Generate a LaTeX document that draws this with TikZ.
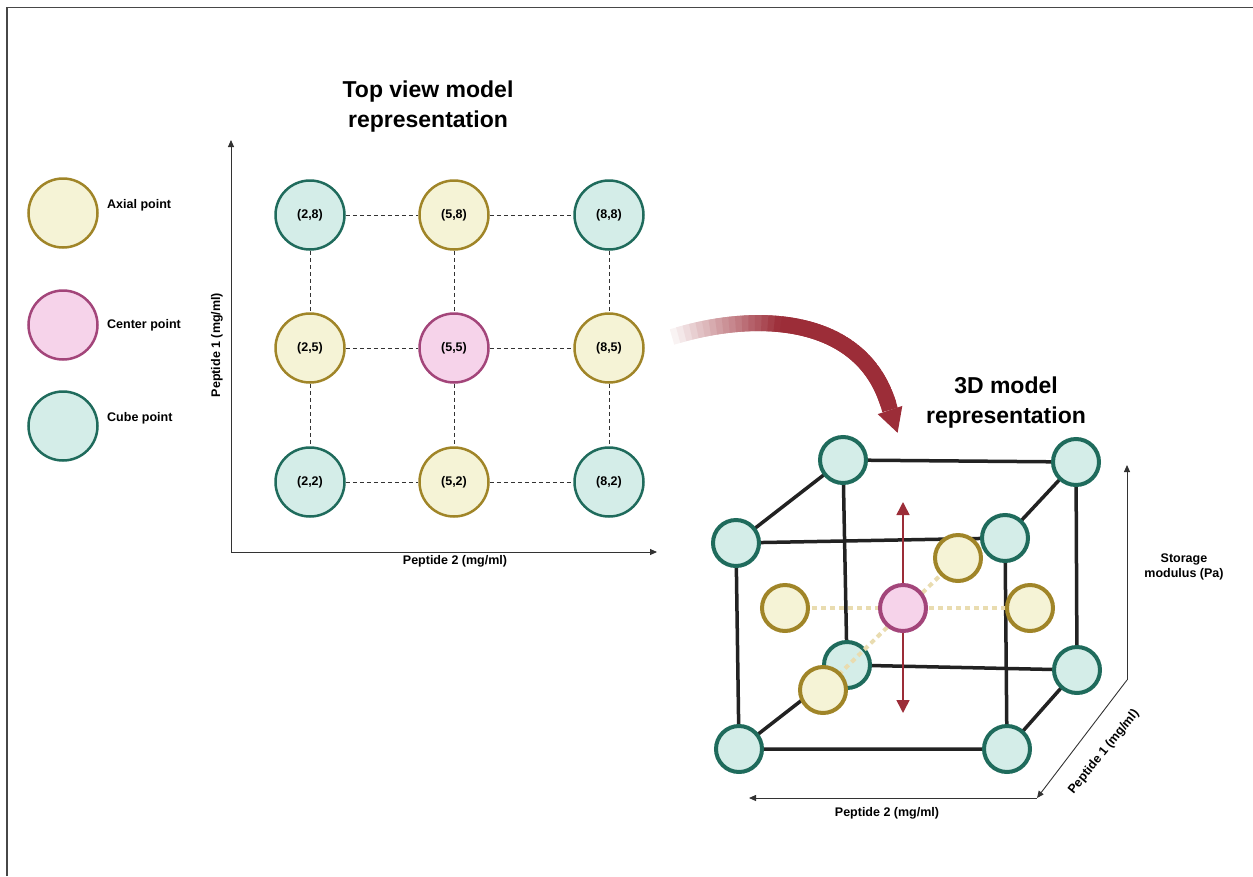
\documentclass[tikz,border=0pt]{standalone}
\usepackage{fontspec}
\setmainfont{Liberation Sans}
\usetikzlibrary{arrows.meta,decorations.markings,calc}
\definecolor{cubeF}{HTML}{D4EDE8}
\definecolor{cubeB}{HTML}{1F6B5C}
\definecolor{axF}{HTML}{F5F3D6}
\definecolor{axB}{HTML}{A08528}
\definecolor{cenF}{HTML}{F6D3EA}
\definecolor{cenB}{HTML}{A3457A}
\definecolor{ared}{HTML}{9C2D38}
\definecolor{beigedot}{HTML}{E9DCB0}
\definecolor{edgecol}{HTML}{222222}
\definecolor{axiscol}{HTML}{333333}
\begin{document}
\begin{tikzpicture}[x=1pt,y=-1pt,
  pt/.style={circle, inner sep=0pt, line width=2.5pt, minimum size=69pt, font=\bfseries\fontsize{12.5}{14}\selectfont},
  cubept/.style={pt, draw=cubeB, fill=cubeF},
  axpt/.style={pt, draw=axB, fill=axF},
  cenpt/.style={pt, draw=cenB, fill=cenF},
  tdpt/.style={line width=4pt, minimum size=46pt},
  griddash/.style={draw=axiscol, line width=0.8pt, dash pattern=on 4pt off 3pt},
  axisline/.style={draw=axiscol, line width=0.9pt, -{Triangle[length=7pt,width=6pt]}},
  lbl/.style={font=\bfseries\fontsize{12.5}{14.5}\selectfont, text=black, inner sep=0pt},
  ttl/.style={font=\bfseries\fontsize{23}{30}\selectfont, align=center, text=black},
  cubeedge/.style={draw=edgecol, line width=3.5pt},
  beigedots/.style={draw=beigedot, line width=4pt, dash pattern=on 5pt off 4pt}
]
\useasboundingbox (0,0) rectangle (1253,876);
% frame
\draw[axiscol!90, line width=1.6pt] (7,876) -- (7,7.5) -- (1253,7.5);

% legend
\node[axpt]  (lax)  at (63,213) {};
\node[cenpt] (lcen) at (63,325) {};
\node[cubept](lcub) at (63,426) {};
\node[lbl, anchor=west] (tax)  at (107,205) {Axial point};
\node[lbl, anchor=west] (tcen) at (107,325) {Center point};
\node[lbl, anchor=west] (tcub) at (107,418) {Cube point};

% top view title
\node[ttl] (t1) at (428,107) {Top view model\\representation};

% top view axes
\coordinate (o1) at (231,552);
\coordinate (ya) at (231,140);
\coordinate (xa) at (657,552);
\draw[axisline] (o1) -- (ya);
\draw[axisline] (o1) -- (xa);
\node[lbl, rotate=90] (yl) at (217,345) {Peptide 1 (mg/ml)};
\node[lbl] (xl) at (455,561) {Peptide 2 (mg/ml)};

% grid
\node[cubept] (g28) at (310,215) {(2,8)};
\node[axpt]   (g58) at (454,215) {(5,8)};
\node[cubept] (g88) at (609,215) {(8,8)};
\node[axpt]   (g25) at (310,348) {(2,5)};
\node[cenpt]  (g55) at (454,348) {(5,5)};
\node[axpt]   (g85) at (609,348) {(8,5)};
\node[cubept] (g22) at (310,482) {(2,2)};
\node[axpt]   (g52) at (454,482) {(5,2)};
\node[cubept] (g82) at (609,482) {(8,2)};
\draw[griddash] (g28) -- (g58) (g58) -- (g88) (g25) -- (g55) (g55) -- (g85) (g22) -- (g52) (g52) -- (g82);
\draw[griddash] (g28) -- (g25) (g25) -- (g22) (g58) -- (g55) (g55) -- (g52) (g88) -- (g85) (g85) -- (g82);

% curved arrow
\path[decorate, decoration={markings, mark=between positions 0 and 1 step 0.025 with {\coordinate (q\pgfkeysvalueof{/pgf/decoration/mark info/sequence number});}}]
  (672,337) .. controls (758,310) and (866,316) .. (890,410);
\coordinate (qend) at (890,410);
\foreach \i in {1,...,38}{
  \pgfmathtruncatemacro\j{\i+2}
  \pgfmathtruncatemacro\p{min(100,6+230*(\i-1)/40)}
  \draw[ared!\p!white, line width=16pt, line cap=butt] (q\i) -- (q\j);
}
\draw[ared, line width=16pt, line cap=butt, line join=round] (q39) -- (q40) -- (qend);
\coordinate (hl) at (877.7,414.1);
\coordinate (hr) at (902.3,405.9);
\coordinate (ht) at (897.6,432.8);
\fill[ared] (hl) -- (hr) -- (ht) -- cycle;

% 3D title
\node[ttl] (t2) at (1006,403) {3D model\\representation};

% 3D cube positions
\coordinate (btl) at (843,460);
\coordinate (btr) at (1076,462);
\coordinate (ftl) at (736,543);
\coordinate (ftr) at (1005,538);
\coordinate (bbl) at (847,665);
\coordinate (bbr) at (1077,670);
\coordinate (fbl) at (739,749);
\coordinate (fbr) at (1007,749);
\coordinate (axl) at (785,608);
\coordinate (axr) at (1030,608);
\coordinate (axb) at (958,558);
\coordinate (axf) at (823,690);
\coordinate (cen) at (903,608);
\coordinate (rt) at (903,502);
\coordinate (rb) at (903,713);

\draw[cubeedge] (btl) -- (btr) -- (bbr) -- (bbl) -- cycle;
\draw[cubeedge] (ftl) -- (ftr) -- (fbr) -- (fbl) -- cycle;
\draw[cubeedge] (ftl) -- (btl) (ftr) -- (btr) (fbl) -- (bbl) (fbr) -- (bbr);

% 3D axes
\coordinate (o3) at (1127,680);
\coordinate (z3) at (1127,465);
\coordinate (c3) at (1037,798);
\coordinate (x3) at (749,798);
\draw[axisline] (o3) -- (z3);
\draw[axisline] (o3) -- (c3);
\draw[axisline] (c3) -- (x3);
\node[lbl, align=center] (sm) at (1184,567) {Storage\\modulus (Pa)};
\node[lbl, rotate=51] (p1) at (1104,752) {Peptide 1 (mg/ml)};
\node[lbl] (p2) at (887,813) {Peptide 2 (mg/ml)};

% red arrow
\draw[ared, line width=1.6pt, {Triangle[length=13pt,width=13pt]}-{Triangle[length=13pt,width=13pt]}] (rt) -- (rb);

% back circles
\node[cubept, tdpt] (nbtl) at (btl) {};
\node[cubept, tdpt] (nbtr) at (btr) {};
\node[cubept, tdpt] (nbbl) at (bbl) {};
\node[cubept, tdpt] (nbbr) at (bbr) {};

% dotted lines
\draw[beigedots] (axl) -- (axr);
\draw[beigedots] (axb) -- (axf);

% axial and center
\node[axpt, tdpt] (naxb) at (axb) {};
\node[axpt, tdpt] (naxl) at (axl) {};
\node[axpt, tdpt] (naxr) at (axr) {};
\node[cenpt, tdpt] (ncen) at (cen) {};
\node[axpt, tdpt] (naxf) at (axf) {};

% front circles
\node[cubept, tdpt] (nftl) at (ftl) {};
\node[cubept, tdpt] (nftr) at (ftr) {};
\node[cubept, tdpt] (nfbl) at (fbl) {};
\node[cubept, tdpt] (nfbr) at (fbr) {};
\end{tikzpicture}
\end{document}
